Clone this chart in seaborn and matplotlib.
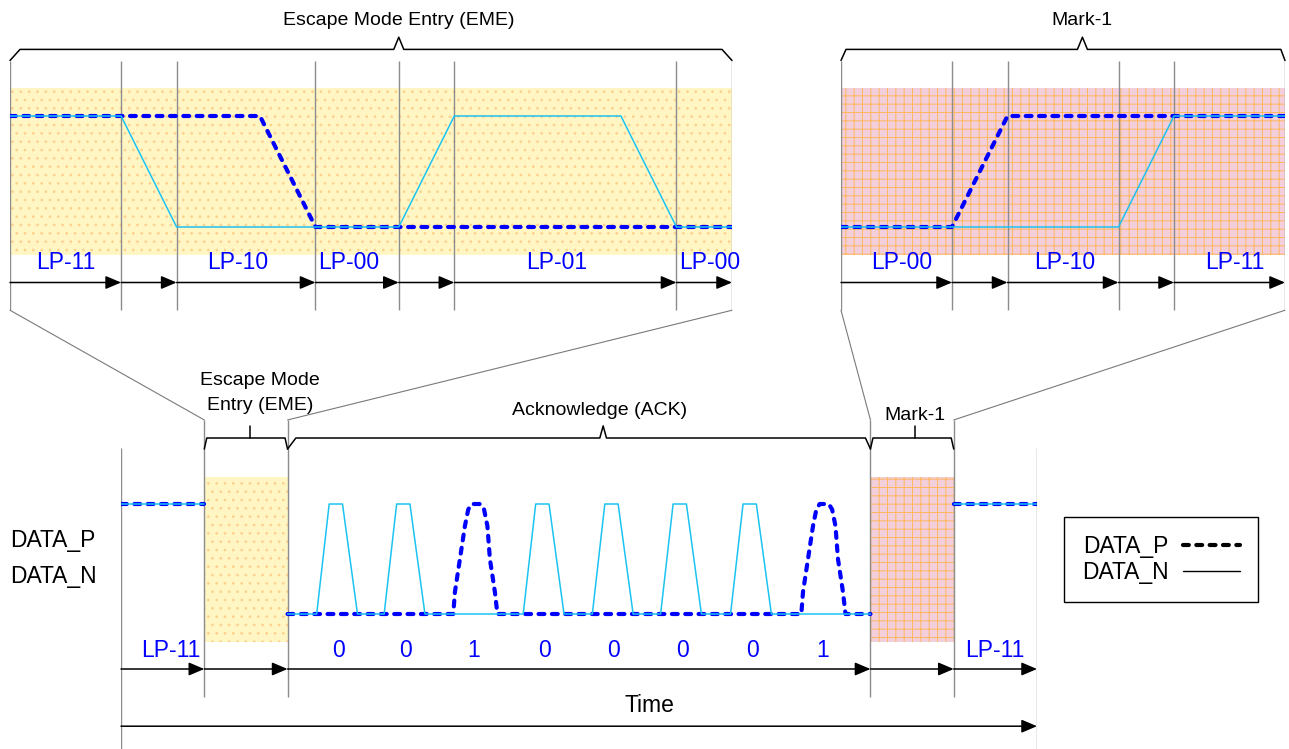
import matplotlib.pyplot as plt
import seaborn as sns
from matplotlib.lines import Line2D
from matplotlib.patches import ConnectionPatch

sns.set_theme(style='white')
plt.rcParams['font.family'] = ['Liberation Sans', 'DejaVu Sans']
plt.rcParams['text.color'] = 'black'
plt.rcParams['hatch.linewidth'] = 0.7

# time in arbitrary units, level 0 = low, 1 = high

# zoom of the Escape Mode Entry
eme_edges = [0, 4, 6, 11, 14, 16, 24, 26]
eme_p_t = [0, 9, 11, 26]
eme_p_v = [1, 1, 0, 0]
eme_n_t = [0, 4, 6, 14, 16, 22, 24, 26]
eme_n_v = [1, 1, 0, 0, 1, 1, 0, 0]
eme_states = ['LP-11', 'LP-10', 'LP-00', 'LP-01', 'LP-00']
eme_state_t = [2.0, 8.2, 12.2, 19.7, 25.2]

# zoom of the Mark-1
mark_edges = [0, 4, 6, 10, 12, 16]
mark_p_t = [0, 4, 6, 16]
mark_p_v = [0, 0, 1, 1]
mark_n_t = [0, 10, 12, 16]
mark_n_v = [0, 0, 1, 1]
mark_states = ['LP-00', 'LP-10', 'LP-11']
mark_state_t = [2.2, 8.05, 14.2]

# overview: LP-11 | EME | ACK | Mark-1 | LP-11
seq_edges = [0, 1, 2, 9, 10, 11]
seq_states = ['LP-11', 'LP-11']
seq_state_t = [0.6, 10.49]
ack_bits = [0, 0, 1, 0, 0, 0, 0, 1]
ack_bit_t = [2.61, 3.42, 4.24, 5.09, 5.92, 6.74, 7.58, 8.42]

# pulse shapes around a bit centre
n_pulse_dt = [-0.26, -0.11, 0.05, 0.23]
n_pulse_v = [0, 1, 1, 0]
p_pulse_dt = [-0.25, -0.23, -0.17, -0.11, -0.07, -0.03, 0.08, 0.12, 0.16, 0.19, 0.25, 0.28]
p_pulse_v = [0, 0.2, 0.5, 0.8, 0.95, 1, 1, 0.95, 0.8, 0.5, 0.2, 0]

P_COLOR = '#0000ff'
N_COLOR = '#1cc3f0'
LABEL_BLUE = '#0000ff'
GREY = '#8c8c8c'

W, H = 1289, 749
YLIM = (-1.3, 1.9)

fig = plt.figure(figsize=(W / 100, H / 100), dpi=100)


def make_panel(x0, x1, t0, t1, y_low, y_high):
    # place an axes so that t0..t1 covers pixel columns x0..x1
    # and levels 0/1 sit on pixel rows y_low/y_high
    unit = y_low - y_high
    top = y_low - YLIM[1] * unit
    bot = y_low - YLIM[0] * unit
    ax = fig.add_axes([x0 / W, 1 - bot / H, (x1 - x0) / W, (bot - top) / H])
    ax.set_axis_off()
    return ax, (t0, t1)


def draw_p(ax, t, v):
    sns.lineplot(x=t, y=v, ax=ax, color=P_COLOR, linewidth=3,
                 estimator=None, sort=False, zorder=3)
    line = ax.lines[-1]
    line.set_dashes((1.4, 1.8))
    line.set_dash_capstyle('round')


def draw_n(ax, t, v):
    sns.lineplot(x=t, y=v, ax=ax, color=N_COLOR, linewidth=1.1,
                 estimator=None, sort=False, zorder=4)


def shade(ax, t0, t1, kind):
    if kind == 'eme':
        ax.fill_between([t0, t1], -0.25, 1.25, facecolor='#fff6c4',
                        edgecolor='#fdd08c', hatch='..', linewidth=0, zorder=0)
    else:
        ax.fill_between([t0, t1], -0.25, 1.25, facecolor='#f3cedb',
                        edgecolor='#ffb85e', hatch='++', linewidth=0, zorder=0)


def arrows(ax, edges, y):
    for a, b in zip(edges[:-1], edges[1:]):
        ax.annotate('', xy=(b, y), xytext=(a, y), annotation_clip=False,
                    arrowprops=dict(arrowstyle='-|>,head_length=0.94,head_width=0.4',
                                    mutation_scale=10, color='black', lw=1.1,
                                    shrinkA=0, shrinkB=0))


def peak_bracket(ax, t0, t1, tm, dl, dr, dm=0.18):
    xs = [t0, t0 + dl, tm - dm, tm, tm + dm, t1 - dr, t1]
    ys = [1.5, 1.6, 1.6, 1.71, 1.6, 1.6, 1.5]
    ax.plot(xs, ys, color='black', lw=1.1, clip_on=False)


def tick_bracket(ax, t0, t1, tm, d=0.03):
    ax.plot([t0, t0 + d, t1 - d, t1], [1.5, 1.6, 1.6, 1.5],
            color='black', lw=1.1, clip_on=False)
    ax.plot([tm, tm], [1.6, 1.71], color='black', lw=1.1, clip_on=False)


def states(ax, names, ts, y):
    for name, t in zip(names, ts):
        ax.text(t, y, name, ha='center', va='baseline', fontsize=16.5,
                color=LABEL_BLUE)


# ---- zoomed EME ----
ax_eme, lim = make_panel(10, 732, 0, 26, 227, 116)
shade(ax_eme, eme_edges[0], eme_edges[-1], 'eme')
ax_eme.vlines(eme_edges, -0.75, 1.5, color=GREY, lw=1.0, zorder=1)
draw_p(ax_eme, eme_p_t, eme_p_v)
draw_n(ax_eme, eme_n_t, eme_n_v)
arrows(ax_eme, eme_edges, -0.5)
states(ax_eme, eme_states, eme_state_t, -0.38)
peak_bracket(ax_eme, 0, 26, 14, 0.36, 0.36)
ax_eme.text(14, 1.82, 'Escape Mode Entry (EME)', ha='center', va='baseline', fontsize=14)
ax_eme.set_xlim(*lim)
ax_eme.set_ylim(*YLIM)

# ---- zoomed Mark-1 ----
ax_mark, lim = make_panel(841, 1285, 0, 16, 227, 116)
shade(ax_mark, mark_edges[0], mark_edges[-1], 'mark')
ax_mark.vlines(mark_edges, -0.75, 1.5, color=GREY, lw=1.0, zorder=1)
draw_p(ax_mark, mark_p_t, mark_p_v)
draw_n(ax_mark, mark_n_t, mark_n_v)
arrows(ax_mark, mark_edges, -0.5)
states(ax_mark, mark_states, mark_state_t, -0.38)
peak_bracket(ax_mark, 0, 16, 8.7, 0.18, 0.15)
ax_mark.text(8.7, 1.82, 'Mark-1', ha='center', va='baseline', fontsize=14)
ax_mark.set_xlim(*lim)
ax_mark.set_ylim(*YLIM)

# ---- overview ----
ax_ov, lim = make_panel(121, 1037, 0, 11, 614, 504)
shade(ax_ov, seq_edges[1], seq_edges[2], 'eme')
shade(ax_ov, seq_edges[3], seq_edges[4], 'mark')
ax_ov.vlines([seq_edges[0], seq_edges[-1]], -1.4, 1.51, color=GREY, lw=1.0, zorder=1)
ax_ov.vlines(seq_edges[1:-1], -0.755, 1.764, color=GREY, lw=1.0, zorder=1)

for a, b in [(seq_edges[0], seq_edges[1]), (seq_edges[4], seq_edges[5])]:
    draw_p(ax_ov, [a, b], [1, 1])
    draw_n(ax_ov, [a, b], [1, 1])


def ack_wave(level_bit, dt, dv):
    t, v = [seq_edges[2]], [0]
    for bit, c in zip(ack_bits, ack_bit_t):
        if bit == level_bit:
            t += [c + d for d in dt]
            v += list(dv)
    t.append(seq_edges[3])
    v.append(0)
    return t, v


draw_p(ax_ov, *ack_wave(1, p_pulse_dt, p_pulse_v))
draw_n(ax_ov, *ack_wave(0, n_pulse_dt, n_pulse_v))

arrows(ax_ov, seq_edges, -0.5)
arrows(ax_ov, [seq_edges[0], seq_edges[-1]], -1.02)
states(ax_ov, seq_states, seq_state_t, -0.39)
for bit, c in zip(ack_bits, ack_bit_t):
    ax_ov.text(c, -0.39, str(bit), ha='center', va='baseline', fontsize=16.5,
               color=LABEL_BLUE)
ax_ov.text(6.34, -0.89, 'Time', ha='center', va='baseline', fontsize=16.5)

tick_bracket(ax_ov, 1, 2, 1.55)
peak_bracket(ax_ov, 2, 9, 5.79, 0.1, 0.06, dm=0.04)
tick_bracket(ax_ov, 9, 10, 9.54)
ax_ov.text(1.67, 2.08, 'Escape Mode', ha='center', va='baseline', fontsize=14)
ax_ov.text(1.67, 1.855, 'Entry (EME)', ha='center', va='baseline', fontsize=14)
ax_ov.text(5.75, 1.81, 'Acknowledge (ACK)', ha='center', va='baseline', fontsize=14)
ax_ov.text(9.54, 1.764, 'Mark-1', ha='center', va='baseline', fontsize=14)

ax_ov.text(-1.33, 0.61, 'DATA_P', ha='left', va='baseline', fontsize=16.5)
ax_ov.text(-1.33, 0.28, 'DATA_N', ha='left', va='baseline', fontsize=16.5)
ax_ov.set_xlim(*lim)
ax_ov.set_ylim(*YLIM)

# zoom connectors from the detail panels down to the overview
for ax_top, t_top, t_bot in [(ax_eme, 0, 1), (ax_eme, 26, 2),
                             (ax_mark, 0, 9), (ax_mark, 16, 10)]:
    con = ConnectionPatch(xyA=(t_top, -0.75), coordsA='data', axesA=ax_top,
                          xyB=(t_bot, 1.764), coordsB='data', axesB=ax_ov,
                          color='#7a7a7a', lw=0.8)
    fig.add_artist(con)

# legend
h_p = Line2D([], [], color='black', lw=3, dashes=(1.4, 1.8), dash_capstyle='round')
h_n = Line2D([], [], color='black', lw=1.0)
leg = fig.legend([h_p, h_n], ['DATA_P', 'DATA_N'], loc='upper left',
                 bbox_to_anchor=(1064 / W, 1 - 517 / H), markerfirst=False,
                 fontsize=16.5, handlelength=2.5, handletextpad=0.6,
                 borderpad=0.8, labelspacing=0.1, fancybox=False,
                 framealpha=1, edgecolor='black', borderaxespad=0)
leg.get_frame().set_linewidth(1.0)

fig.savefig('out.png', dpi=100)
